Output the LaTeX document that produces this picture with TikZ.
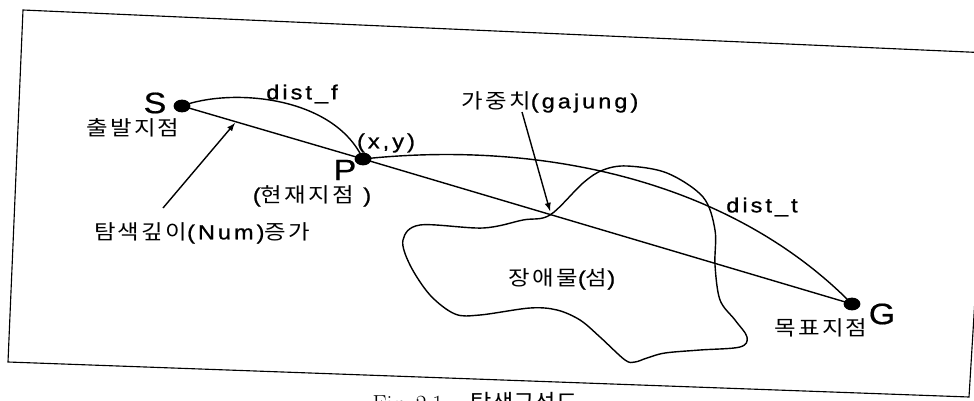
\documentclass[tikz,border=0pt]{standalone}
\usepackage{fontspec}
\setsansfont{Liberation Sans}[FakeStretch=1.15,LetterSpace=15,FakeBold=1]
\newfontfamily\kr{Noto Sans CJK KR}[FakeStretch=1.15,LetterSpace=11]
\newfontfamily\bigsf{Liberation Sans}[FakeStretch=1.15,FakeBold=0.6]
\newfontfamily\krcap{Noto Sans CJK KR}
\usetikzlibrary{shapes.geometric}

\tikzset{
  lbl/.style={font=\sffamily\fontsize{14.5}{17}\selectfont, inner sep=0pt},
  ptname/.style={font=\bigsf\fontsize{21}{24}\selectfont, inner sep=0pt},
  waypt/.style={ellipse, fill, inner sep=0pt, minimum width=0.42cm, minimum height=0.32cm},
}

\begin{document}
\begin{tikzpicture}[x=0.025cm, y=-0.025cm, line width=1pt, >=latex]
  \useasboundingbox (0,0) rectangle (974,401);
  \clip (0,0) rectangle (974,401);

  % Frame (scanned, slightly tilted)
  \draw[line width=0.8pt] (23,10) -- (990,53) -- (969,397) -- (8,362) -- cycle;

  % Obstacle (island)
  \draw plot[smooth cycle, tension=0.55] coordinates {(420,225) (483,228) (523,220) (550,215) (583,183) (603,170) (627,166) (667,173) (703,197) (715,230) (715,265) (720,300) (735,320) (747,337) (740,347) (700,350) (665,353) (647,358) (635,362) (625,360) (600,337) (580,320) (557,310) (530,308) (480,315) (455,314) (430,295) (410,265) (403,240)};

  % Points
  \node[waypt] (S) at (182,106) {};
  \node[waypt] (P) at (363,159) {};
  \node[waypt] (G) at (852,304) {};

  % Straight line S - P - G
  \draw (S.center) -- (P.center) -- (G.center);

  % Curves dist_f and dist_t
  \draw (S.center) .. controls (230,88) and (333,95) .. (P.center);
  \draw (P.center) .. controls (540,140) and (730,180) .. (G.center);

  % Labels
  \node[ptname] (Slbl) at (155,103) {S};
  \node[ptname] (Plbl) at (345,170) {P};
  \node[ptname] (Glbl) at (882,314) {G};
  \node[lbl] (start) at (133,128) {\kr 출발지점};
  \node[lbl] (xy) at (386,143) {(x,y)};
  \node[lbl] (cur) at (312,196) {({\kr 현재지점} )};
  \node[lbl] (goal) at (821,328) {\kr 목표지점};
  \node[lbl] (distf) at (302,94) {dist\_f};
  \node[lbl] (distt) at (762,207) {dist\_t};
  \node[lbl] (island) at (562,279) {{\kr 장애물}({\kr 섬})};
  \node[lbl] (depth) at (202,233) {{\kr 탐색깊이}(Num){\kr 증가}};
  \node[lbl] (weight) at (550,102) {{\kr 가중치}(gajung)};

  % Arrows
  \coordinate (depthfoot) at (163,208);
  \coordinate (depthtip) at (235,123);
  \coordinate (weightfoot) at (522,112);
  \coordinate (weighttip) at (550,211);
  \draw[->] (depthfoot) -- (depthtip);
  \draw[->] (weightfoot) -- (weighttip);

  % Caption (cut off by the scan)
  \node[anchor=base west, inner sep=0pt, font=\fontsize{16.5}{18}\selectfont] (cap) at (372,411) {Fig.~2.1\hspace{1.2em}{\krcap 탐색구성도}};
\end{tikzpicture}
\end{document}
